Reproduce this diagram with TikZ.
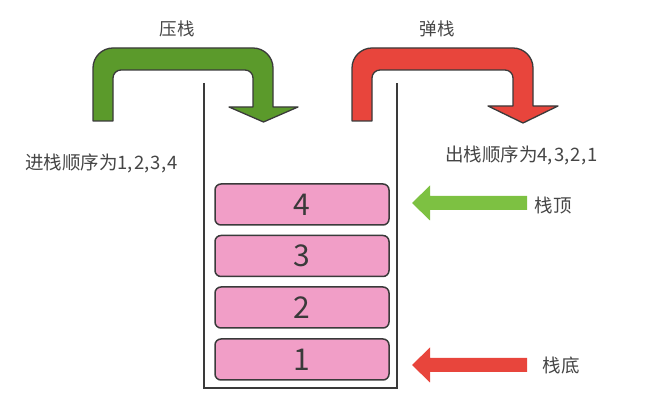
\documentclass[tikz,border=0pt]{standalone}
\usepackage{fontspec}
\setmainfont{Noto Sans CJK SC}
\newfontfamily\cjk{Noto Sans CJK SC}
\definecolor{darkgreen}{HTML}{5B9A2B}
\definecolor{lightgreen}{HTML}{7DC142}
\definecolor{myred}{HTML}{E8453C}
\definecolor{boxpink}{HTML}{F19EC7}
\definecolor{edge}{HTML}{3A3A3A}
\definecolor{txt}{HTML}{454545}
\begin{document}
\begin{tikzpicture}[x=1pt,y=1pt,
  bigarrow/.style={line width=1.3pt,draw=edge,line join=round},
  wall/.style={line width=1.6pt,draw=edge},
  stackbox/.style={draw=edge,line width=1.5pt,fill=boxpink,rounded corners=6pt,minimum width=174pt,minimum height=41pt,inner sep=0pt,text=edge,font=\cjk\fontsize{30}{30}\selectfont},
  label/.style={text=txt,font=\cjk\fontsize{18.5}{20}\selectfont,inner sep=0pt},
  toplabel/.style={text=txt,font=\cjk\fontsize{17.5}{19}\selectfont,inner sep=0pt}]
\useasboundingbox (0,0) rectangle (666,412);
% green push arrow
\filldraw[bigarrow,fill=darkgreen] (93,291) -- (93,344) arc[start angle=180,end angle=90,radius=20] -- (253,364) arc[start angle=90,end angle=0,radius=20] -- (273,305) -- (298,305) -- (263.5,290) -- (229,305) -- (253,305) -- (253,334) arc[start angle=0,end angle=90,radius=8] -- (121,342) arc[start angle=90,end angle=180,radius=8] -- (113,291) -- cycle;
% red pop arrow
\filldraw[bigarrow,fill=myred] (352,291) -- (352,344) arc[start angle=180,end angle=90,radius=20] -- (513,364) arc[start angle=90,end angle=0,radius=20] -- (533,306) -- (558,306) -- (523,289) -- (488,306) -- (513,306) -- (513,334) arc[start angle=0,end angle=90,radius=8] -- (380,342) arc[start angle=90,end angle=180,radius=8] -- (372,291) -- cycle;
% container
\coordinate (wl) at (204,329);
\coordinate (bl) at (204,24);
\coordinate (br) at (397,24);
\coordinate (wr) at (397,329);
\draw[wall] (wl) -- (bl) -- (br) -- (wr);
% boxes
\node[stackbox] (b4) at (302,207.5) {4};
\node[stackbox] (b3) at (302,156) {3};
\node[stackbox] (b2) at (302,104.5) {2};
\node[stackbox] (b1) at (302,52.5) {1};
% small arrows
\fill[lightgreen] (412,209) -- (430,226.5) -- (430,216) -- (527,216) -- (527,202) -- (430,202) -- (430,191.5) -- cycle;
\fill[myred] (412,47) -- (430,64.5) -- (430,54) -- (527,54) -- (527,40) -- (430,40) -- (430,29.5) -- cycle;
% labels
\node[toplabel] (push) at (177,383) {压栈};
\node[toplabel] (pop) at (437,383) {弹栈};
\node[label,anchor=west] (inord) at (25,249) {进栈顺序为1{,}\hspace{1.2pt}2{,}\hspace{1.2pt}3{,}\hspace{1.2pt}4};
\node[label,anchor=west] (outord) at (445,257) {出栈顺序为4{,}\hspace{1.2pt}3{,}\hspace{1.2pt}2{,}\hspace{1.2pt}1};
\node[label] (top) at (553,207) {栈顶};
\node[label] (bottom) at (561,47) {栈底};
\end{tikzpicture}
\end{document}
